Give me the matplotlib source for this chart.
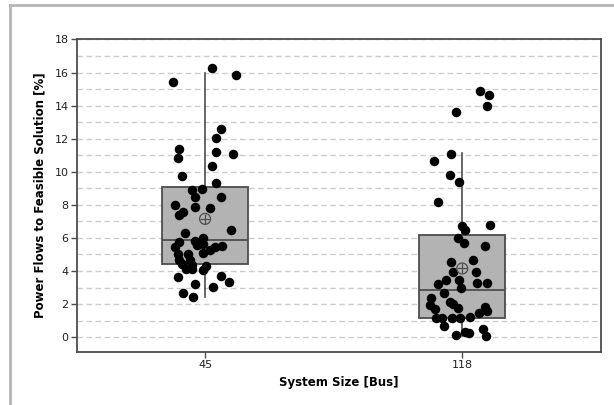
import numpy as np
import matplotlib
matplotlib.use("Agg")
import matplotlib.pyplot as plt
from matplotlib.lines import Line2D

# categories
sizes = ["45", "118"]

# box statistics
q1 = [4.45, 1.13]
med = [5.90, 2.84]
q3 = [9.08, 6.16]
whislo = [2.40, 0.06]
whishi = [16.0, 11.15]
means = [7.15, 4.15]

# points (value, horizontal jitter) for 45 bus
bus45_vals = [16.29, 15.86, 15.42, 12.56, 12.04, 11.35, 10.83, 11.19, 11.09, 10.33,
              9.74, 9.34, 8.94, 8.88, 8.47, 8.47, 8.01, 7.87, 7.83, 7.57,
              7.37, 6.50, 6.32, 5.76, 5.82, 6.02, 5.66, 5.56, 5.45, 5.45,
              5.50, 5.25, 5.09, 5.01, 5.01, 4.65, 4.65, 4.45, 4.35, 4.29,
              4.09, 4.09, 4.05, 3.64, 3.68, 3.34, 3.20, 3.04, 2.64, 2.40]
bus45_jit = [0.026, 0.12, -0.126, 0.061, 0.043, -0.10, -0.104, 0.043, 0.11, 0.026,
             -0.09, 0.043, -0.013, -0.05, -0.04, 0.061, -0.117, -0.04, 0.02, -0.087,
             -0.10, 0.10, -0.078, -0.10, -0.04, -0.009, -0.007, -0.032, -0.117, 0.039,
             0.065, 0.02, -0.007, -0.104, -0.065, -0.10, -0.058, -0.09, -0.05, 0.004,
             -0.074, -0.052, -0.007, -0.104, 0.061, 0.095, -0.039, 0.032, -0.087, -0.048]

# points (value, horizontal jitter) for 118 bus
bus118_vals = [14.86, 14.65, 13.95, 13.61, 11.09, 10.65, 9.82, 9.38, 8.17, 6.76,
               6.70, 6.46, 6.02, 5.70, 5.50, 4.69, 4.55, 3.94, 3.94, 3.48,
               3.44, 3.28, 3.28, 3.20, 3.00, 2.68, 2.38, 1.97, 2.13, 2.03,
               1.79, 1.67, 1.83, 1.59, 1.47, 1.13, 1.13, 1.13, 1.13, 1.19,
               0.66, 0.12, 0.32, 0.26, 0.52, 0.06]
bus118_jit = [0.07, 0.106, 0.098, -0.023, -0.043, -0.108, -0.049, -0.012, -0.095, 0.109,
              -0.001, 0.012, -0.018, 0.005, 0.087, 0.042, -0.043, -0.034, 0.054, -0.014,
              -0.062, 0.057, 0.098, -0.093, -0.004, -0.069, -0.12, -0.127, -0.049, -0.034,
              -0.018, -0.105, 0.089, 0.096, 0.067, -0.101, -0.079, -0.04, -0.008, 0.029,
              -0.07, -0.023, 0.012, 0.025, 0.081, 0.093]

fig = plt.figure(figsize=(6.14, 4.05), dpi=100)
ax = fig.add_axes([0.1254, 0.1309, 0.8536, 0.7728])

stats = []
for i in range(2):
    stats.append(dict(q1=q1[i], med=med[i], q3=q3[i], whislo=whislo[i],
                      whishi=whishi[i], mean=means[i], label=sizes[i], fliers=[]))

dark = "#4d4d4d"
ax.bxp(stats, positions=[0, 1], widths=0.335, patch_artist=True, showcaps=False,
       showmeans=False, showfliers=False,
       boxprops=dict(facecolor="#b3b3b3", edgecolor=dark, linewidth=1.3),
       medianprops=dict(color=dark, linewidth=1.3),
       whiskerprops=dict(color=dark, linewidth=1.2), zorder=2)

ax.scatter(np.array(bus45_jit), bus45_vals, s=47, color="black", zorder=3, linewidths=0)
ax.scatter(1 + np.array(bus118_jit), bus118_vals, s=47, color="black", zorder=3, linewidths=0)

# mean markers (circle with cross)
ax.scatter([0, 1], means, s=62, facecolors="none", edgecolors=dark, linewidths=0.9, zorder=4)
ax.scatter([0, 1], means, s=62, marker="+", color=dark, linewidths=0.9, zorder=4)

ax.set_xlim(-0.498, 1.54)
ax.set_ylim(-0.9, 18.03)
ax.set_yticks(range(0, 19, 2))
ax.set_yticks(range(0, 19), minor=True)
ax.yaxis.grid(True, which="both", linestyle=(0, (4, 2.5)), color="#cccccc", linewidth=1.0)
ax.set_axisbelow(True)
ax.set_xticks([0, 1])
ax.set_xticklabels(sizes)
ax.tick_params(axis="y", which="minor", length=0)
ax.tick_params(axis="both", which="major", length=4, width=1, color=dark,
               labelsize=8, labelcolor="#222222", pad=2)
for s in ax.spines.values():
    s.set_color(dark)
    s.set_linewidth(1.3)

ax.set_xlabel("System Size [Bus]", fontsize=8.5, fontweight="bold", labelpad=4)
ax.set_ylabel("Power Flows to Feasible Solution [%]", fontsize=8.5, fontweight="bold", labelpad=6)

# outer frame of the original figure (left and top edges)
fig.add_artist(Line2D([0.0165, 0.0165], [0.0, 0.988], color="#b5b5b5", linewidth=2))
fig.add_artist(Line2D([0.0165, 1.0], [0.988, 0.988], color="#b5b5b5", linewidth=2))

fig.savefig("out.png", dpi=100)
